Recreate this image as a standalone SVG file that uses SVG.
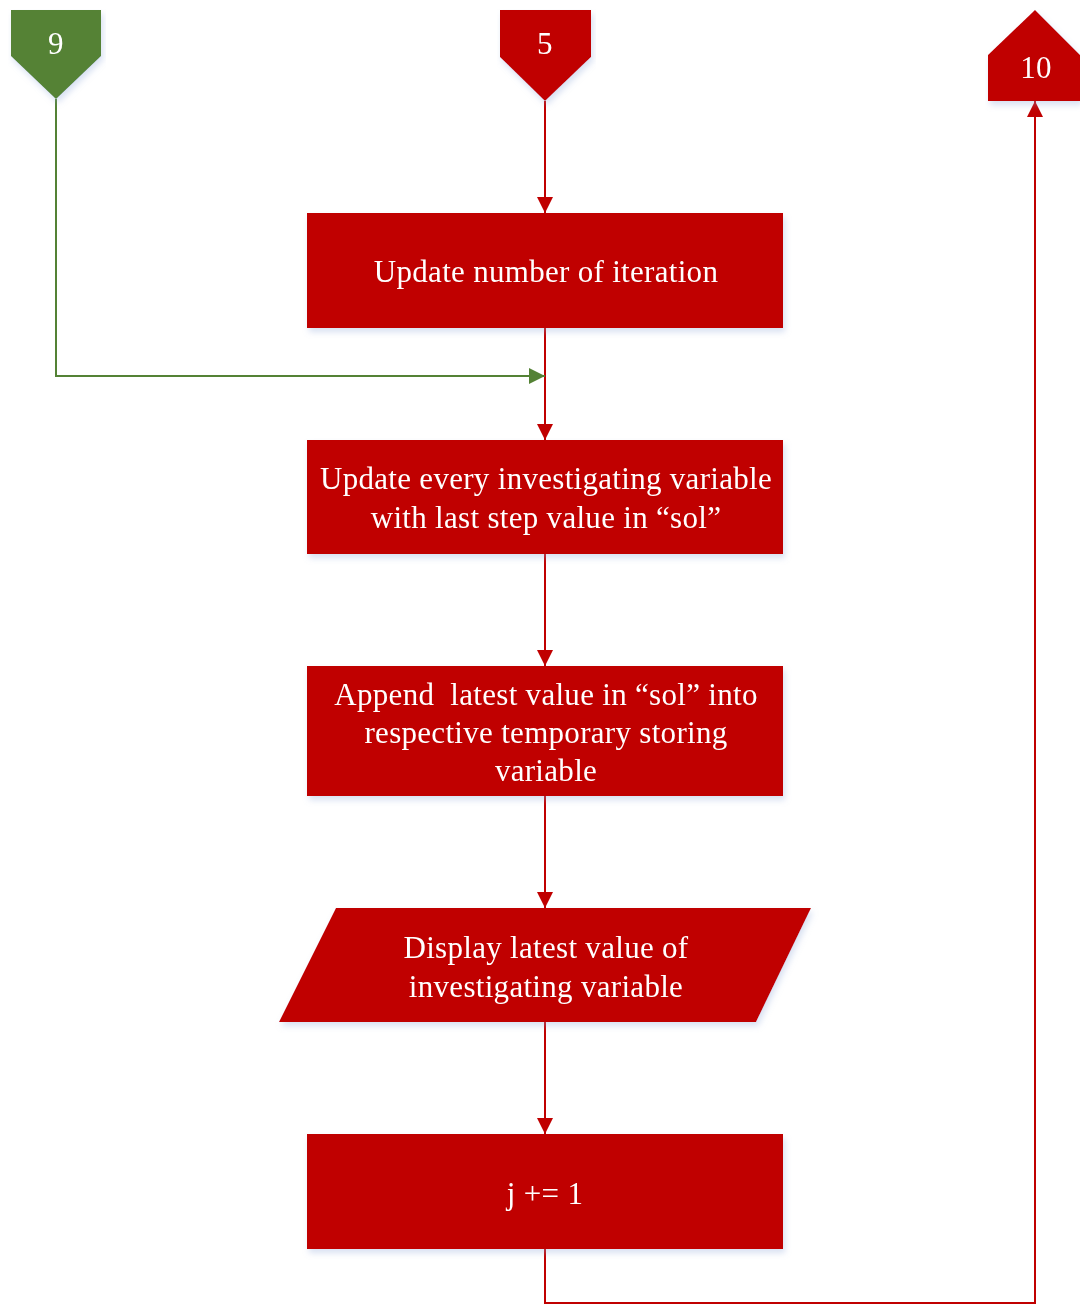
<svg xmlns="http://www.w3.org/2000/svg" width="1080" height="1304" viewBox="0 0 1080 1304">
  <style>
    .red { fill: #c00000; }
    .green { fill: #548235; }
    .lbl { font-family: "Liberation Serif", "Times New Roman", serif; font-size: 31px; letter-spacing: 0.3px; fill: #ffffff; text-anchor: middle; white-space: pre; }
    .wire { fill: none; stroke: #c00000; stroke-width: 2; }
    .wire-g { fill: none; stroke: #548235; stroke-width: 2; }
  </style>
  <defs>
    <filter id="shadow" x="-5%" y="-5%" width="110%" height="120%">
      <feGaussianBlur in="SourceAlpha" stdDeviation="3"/>
      <feOffset dx="2" dy="4" result="b"/>
      <feFlood flood-color="#8fa8d8" flood-opacity="0.35"/>
      <feComposite in2="b" operator="in"/>
      <feMerge><feMergeNode/><feMergeNode in="SourceGraphic"/></feMerge>
    </filter>
    <marker id="arr" viewBox="0 0 10 10" refX="10" refY="5" markerWidth="17" markerHeight="16" markerUnits="userSpaceOnUse" orient="auto">
      <path d="M0,0 L10,5 L0,10 z" fill="#c00000"/>
    </marker>
    <marker id="arr-g" viewBox="0 0 10 10" refX="10" refY="5" markerWidth="17" markerHeight="16" markerUnits="userSpaceOnUse" orient="auto">
      <path d="M0,0 L10,5 L0,10 z" fill="#548235"/>
    </marker>
  </defs>

  <g id="connectors">
    <line class="wire" x1="545" y1="101" x2="545" y2="213" marker-end="url(#arr)"/>
    <line class="wire" x1="545" y1="328" x2="545" y2="440" marker-end="url(#arr)"/>
    <polyline class="wire-g" points="56,99 56,376 545,376" marker-end="url(#arr-g)"/>
    <line class="wire" x1="545" y1="554" x2="545" y2="666" marker-end="url(#arr)"/>
    <line class="wire" x1="545" y1="796" x2="545" y2="908" marker-end="url(#arr)"/>
    <line class="wire" x1="545" y1="1022" x2="545" y2="1134" marker-end="url(#arr)"/>
    <polyline class="wire" points="545,1249 545,1303 1035,1303 1035,101" marker-end="url(#arr)"/>
  </g>

  <g id="conn-9" filter="url(#shadow)">
    <polygon class="green" points="11,10 101,10 101,56 56,99 11,56"/>
    <text class="lbl" x="56" y="54">9</text>
  </g>
  <g id="conn-5" filter="url(#shadow)">
    <polygon class="red" points="500,10 591,10 591,57 545,101 500,57"/>
    <text class="lbl" x="545" y="54">5</text>
  </g>
  <g id="conn-10" filter="url(#shadow)">
    <polygon class="red" points="1035,10 1080,55 1080,101 988,101 988,55"/>
    <text class="lbl" x="1036" y="78">10</text>
  </g>

  <g id="update-iteration" filter="url(#shadow)">
    <rect class="red" x="307" y="213" width="476" height="115"/>
    <text class="lbl" x="546" y="282">Update number of iteration</text>
  </g>
  <g id="update-variables" filter="url(#shadow)">
    <rect class="red" x="307" y="440" width="476" height="114"/>
    <text class="lbl" x="546" y="489">Update every investigating variable</text>
    <text class="lbl" x="546" y="528">with last step value in “sol”</text>
  </g>
  <g id="append-latest" filter="url(#shadow)">
    <rect class="red" x="307" y="666" width="476" height="130"/>
    <text class="lbl" x="546" y="705" xml:space="preserve">Append  latest value in “sol” into</text>
    <text class="lbl" x="546" y="743">respective temporary storing</text>
    <text class="lbl" x="546" y="781">variable</text>
  </g>
  <g id="display-latest" filter="url(#shadow)">
    <polygon class="red" points="336,908 811,908 756,1022 279,1022"/>
    <text class="lbl" x="546" y="958">Display latest value of</text>
    <text class="lbl" x="546" y="997">investigating variable</text>
  </g>
  <g id="increment-j" filter="url(#shadow)">
    <rect class="red" x="307" y="1134" width="476" height="115"/>
    <text class="lbl" x="545" y="1204">j += 1</text>
  </g>
</svg>
